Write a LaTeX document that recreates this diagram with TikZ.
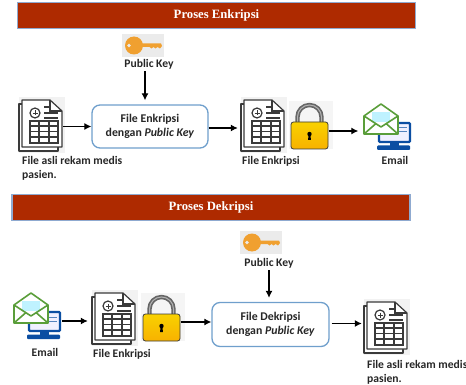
\documentclass[tikz,border=0pt]{standalone}
\usepackage{fontspec}
\setmainfont{Carlito}
\newfontfamily\headfont{Liberation Serif}
\usetikzlibrary{arrows.meta}
\definecolor{headred}{HTML}{AE2A00}
\definecolor{headedge}{HTML}{8FAAD0}
\definecolor{boxedge}{HTML}{6F9FCC}
\definecolor{icondark}{HTML}{3A3A3A}
\definecolor{keyorange}{HTML}{F0A030}
\definecolor{lockyellow}{HTML}{F6BE00}
\definecolor{mailgreen}{HTML}{5A9E3A}
\definecolor{pcblue}{HTML}{0B4EA2}
\tikzset{
  header/.style={draw=headedge,line width=1.2pt,fill=headred,text=white,inner sep=0pt,
    font=\headfont\bfseries\fontsize{12.7}{14}\selectfont},
  procbox/.style={draw=boxedge,line width=1.3pt,rounded corners=8pt,fill=white,align=center,inner sep=0pt,
    text=black!85,font=\bfseries\fontsize{11.8}{14}\selectfont},
  lbl/.style={inner sep=0pt,text=black!85,font=\bfseries\fontsize{11.6}{14}\selectfont},
  lblleft/.style={lbl,align=left,anchor=north west},
  iconbox/.style={inner sep=0pt,minimum width=#1,draw=none},
  conn/.style={draw=black,line width=1.2pt,-{Latex[length=7pt,width=7pt]}},
  sheet/.style={draw=icondark,line width=1.2pt,fill=white,line join=round},
  thin line/.style={draw=icondark,line width=1.2pt},
  pics/docicon/.style={code={
    \fill[black!5] (-1,-2) rectangle (45,54);
    \draw[sheet] (2,5) -- (-1,5) -- (-1,52) -- (38,52) -- (38,48);
    \draw[sheet] (2,1) -- (30,1) -- (42,12) -- (42,48) -- (2,48) -- cycle;
    \draw[thin line] (30,1) -- (30,12) -- (42,12);
    \draw[thin line] (15,14) circle (5);
    \draw[thin line,line width=.9pt] (12.5,14) -- (17.5,14) (15,11.5) -- (15,16.5);
    \draw[thin line] (24,8) -- (30,8) (24,14) -- (38,14) (24,19) -- (38,19);
    \draw[thin line] (10,22) rectangle (38,44);
    \draw[thin line] (10,27) -- (38,27) (10,32.5) -- (38,32.5) (10,38) -- (38,38)
      (19,22) -- (19,44) (29,22) -- (29,44);
  }},
  pics/keyicon/.style={code={
    \fill[black!8] (0,0) rectangle (42,23);
    \fill[keyorange] (12,11.5) circle (9);
    \fill[keyorange] (18,9.5) -- (39,9.5) -- (40,12) -- (38,14.5) -- (35.5,13) -- (33.5,14.5) -- (31.5,13) -- (29.5,14.5) -- (27.5,13) -- (18,13) -- cycle;
    \fill[black!8] (7,11.5) circle (1.8);
  }},
  pics/lockicon/.style={code={
    \fill[black!4] (-2,-2) rectangle (42,46);
    \draw[draw=black!60,line width=4.4pt] (6.5,20) -- (6.5,14) arc[start angle=180,end angle=360,x radius=12,y radius=12] -- (30.5,20);
    \draw[draw=black!30,line width=1pt] (6.5,20) -- (6.5,14) arc[start angle=180,end angle=360,x radius=12,y radius=12] -- (30.5,20);
    \draw[draw=icondark,line width=.8pt,top color=lockyellow!70!yellow,bottom color=lockyellow!80!orange,rounded corners=2.5pt] (0,19) rectangle (37,46);
    \fill[black] (18.5,31) circle (2.2);
    \fill[black] (17.6,31) -- (19.4,31) -- (19.9,37) -- (17.1,37) -- cycle;
  }},
  pics/mailicon/.style={code={
    \draw[draw=pcblue,line width=2.4pt,fill=blue!6,rounded corners=1pt] (16,20) rectangle (47,39);
    \fill[pcblue] (27,39) rectangle (36,44);
    \fill[pcblue,rounded corners=1pt] (14,42.5) rectangle (47,47);
    \draw[draw=pcblue!70,line width=1pt] (36,25) -- (44,25) (36,29) -- (44,29);
    \draw[draw=mailgreen,line width=1.6pt,fill=white,line join=round]
      (1,13) -- (18,1) -- (35,13) -- (35,31) -- (1,31) -- cycle;
    \fill[blue!20!cyan!25] (9,9) rectangle (27,19);
    \draw[draw=mailgreen,line width=1.6pt,line join=round] (1,13) -- (18,24) -- (35,13);
    \draw[draw=mailgreen,line width=1.6pt] (1,31) -- (13,20.5) (35,31) -- (23,20.5);
  }},
}
\begin{document}
\begin{tikzpicture}[x=1pt,y=-1pt]
\useasboundingbox (0,0) rectangle (466,385);
% headers
\node[header,minimum width=398pt,minimum height=26pt] (h1) at (216.5,15.5) {Proses Enkripsi};
\node[header,minimum width=398pt,minimum height=26pt] (h2) at (211,207.5) {Proses Dekripsi};
% top row icons
\pic at (122,34) {keyicon};
\node[lbl] (kt1) at (149,64) {Public Key};
\pic at (20,99) {docicon};
\node[iconbox=42pt,minimum height=48pt] (d1) at (42,126.5) {};
\node[lblleft] (t1) at (22,156) {File asli rekam medis\\pasien.};
\node[procbox,minimum width=116pt,minimum height=43pt] (b1) at (150,126.5) {File Enkripsi\\dengan \textit{Public Key}};
\pic at (242,99) {docicon};
\node[iconbox=42pt,minimum height=48pt] (d2) at (259,126) {};
\node[lbl] (t2) at (271,161) {File Enkripsi};
\pic at (291,103) {lockicon};
\node[iconbox=38pt,minimum height=28pt] (l1) at (309.5,136) {};
\pic at (363,103) {mailicon};
\node[iconbox=35pt,minimum height=30pt] (m1) at (376,122) {};
\node[lbl] (t3) at (395,160) {Email};
% bottom row icons
\pic at (240,231) {keyicon};
\node[lbl] (kt2) at (269,263) {Public Key};
\pic at (13,292) {mailicon};
\node[iconbox=50pt,minimum height=30pt] (m2) at (37,321) {};
\node[lbl] (t4) at (45,352) {Email};
\pic at (93,292) {docicon};
\node[lbl] (t5) at (122,354) {File Enkripsi};
\pic at (143,295) {lockicon};
\node[iconbox=38pt,minimum height=28pt] (l2) at (161.5,322) {};
\node[iconbox=40pt,minimum height=40pt] (d3) at (108,321) {};
\node[procbox,minimum width=117pt,minimum height=44pt] (b2) at (270.5,324.5) {File Dekripsi\\dengan \textit{Public Key}};
\pic at (365,301) {docicon};
\node[iconbox=42pt,minimum height=48pt] (d4) at (383,323) {};
\node[lblleft] (t6) at (367,360) {File asli rekam medis\\pasien.};
% connectors
\draw[conn,shorten >=4pt] (kt1.south) ++(-4,2) coordinate (c1) -- (c1 |- b1.north);
\draw[conn] (d1.east) -- (d1.east -| b1.west);
\draw[conn] (b1.east |- 0,128) coordinate (c2) -- (d2.west |- c2);
\draw[conn] (l1.east |- 0,131) coordinate (c3) -- (m1.west |- c3);
\draw[conn] (m2.east) -- (d3.west |- m2.east);
\draw[conn] (l2.east) -- (b2.west |- l2.east);
\draw[conn,shorten >=4pt] (kt2.south) ++(0,2) coordinate (c4) -- (c4 |- b2.north);
\draw[conn] (b2.east) ++(2,-1) coordinate (c5) -- (d4.west |- c5);
\end{tikzpicture}
\end{document}
